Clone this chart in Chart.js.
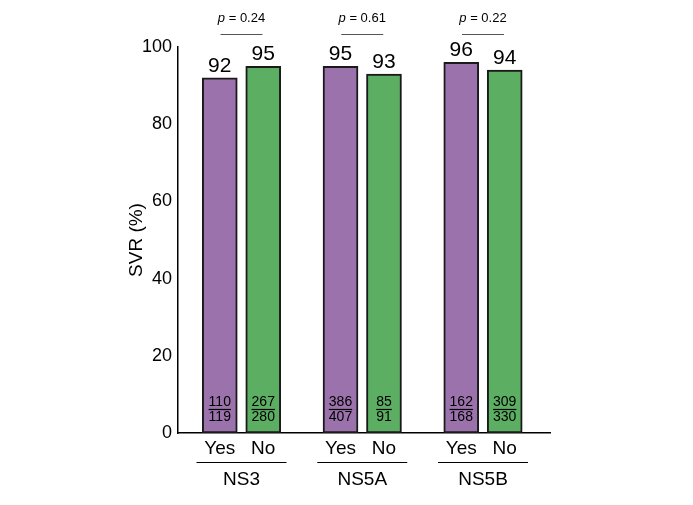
<!DOCTYPE html>
<html>
<head>
<meta charset="utf-8">
<script src="https://cdn.jsdelivr.net/npm/chart.js@4.4.1/dist/chart.umd.min.js"></script>
<style>
  html, body { margin: 0; padding: 0; background: #fff; }
  #wrap { width: 693px; height: 505px; }
</style>
</head>
<body>
<div id="wrap"><canvas id="myChart"></canvas></div>
<script>
const groups = ['NS3', 'NS5A', 'NS5B']
const seriesNames = ['Yes', 'No']
const yesSVR = [92, 95, 96]
const noSVR = [95, 93, 94]
const yesCounts = [['110', '119'], ['386', '407'], ['162', '168']]
const noCounts = [['267', '280'], ['85', '91'], ['309', '330']]
const pValues = ['0.24', '0.61', '0.22']
const yTicks = [0, 20, 40, 60, 80, 100]

const purple = 'rgb(155, 114, 172)'
const green = 'rgb(91, 174, 98)'
const font = "'Liberation Sans', Arial, sans-serif"
const offset = 0.18

const yesData = groups.map((g, i) => ({ x: i + 1 - offset, y: yesSVR[i] }))
const noData = groups.map((g, i) => ({ x: i + 1 + offset, y: noSVR[i] }))

const labelsPlugin = {
  id: 'labels',
  afterDatasetsDraw(chart) {
    const ctx = chart.ctx
    const xs = chart.scales.x
    const ys = chart.scales.y
    ctx.save()
    ctx.fillStyle = '#000'
    ctx.strokeStyle = '#000'
    ctx.textAlign = 'center'

    // value labels and counts
    const sets = [[yesData, yesCounts], [noData, noCounts]]
    sets.forEach(([data, counts]) => {
      data.forEach((d, i) => {
        const px = xs.getPixelForValue(d.x)
        const py = ys.getPixelForValue(d.y)
        ctx.font = '21px ' + font
        ctx.textBaseline = 'alphabetic'
        ctx.fillText(String(d.y), px, py - 6)

        ctx.font = '14px ' + font
        ctx.textBaseline = 'middle'
        ctx.fillText(counts[i][0], px, 402)
        ctx.fillText(counts[i][1], px, 417)
        const w = Math.max(ctx.measureText(counts[i][0]).width, ctx.measureText(counts[i][1]).width)
        ctx.lineWidth = 1.2
        ctx.beginPath()
        ctx.moveTo(px - w / 2, 409.5)
        ctx.lineTo(px + w / 2, 409.5)
        ctx.stroke()
      })
    })

    // p values and group labels
    groups.forEach((g, i) => {
      const cx = xs.getPixelForValue(i + 1)
      ctx.textBaseline = 'middle'
      ctx.font = 'italic 13px ' + font
      const pw = ctx.measureText('p').width
      ctx.font = '13px ' + font
      const rest = ' = ' + pValues[i]
      const rw = ctx.measureText(rest).width
      const start = cx - (pw + rw) / 2
      ctx.textAlign = 'left'
      ctx.font = 'italic 13px ' + font
      ctx.fillText('p', start, 18)
      ctx.font = '13px ' + font
      ctx.fillText(rest, start + pw, 18)
      ctx.textAlign = 'center'

      ctx.strokeStyle = '#555'
      ctx.lineWidth = 1.2
      ctx.beginPath()
      ctx.moveTo(cx - 21, 34.5)
      ctx.lineTo(cx + 21, 34.5)
      ctx.stroke()

      ctx.strokeStyle = '#000'
      ctx.beginPath()
      ctx.moveTo(cx - 45, 462.5)
      ctx.lineTo(cx + 45, 462.5)
      ctx.stroke()

      ctx.font = '19px ' + font
      ctx.fillText(g, cx, 480)
    })
    ctx.restore()
  }
}

new Chart(document.getElementById('myChart'), {
  type: 'bar',
  data: {
    datasets: [{
      label: seriesNames[0],
      data: yesData,
      backgroundColor: purple,
      borderColor: '#1a1a1a',
      borderWidth: 2,
      borderSkipped: false
    }, {
      label: seriesNames[1],
      data: noData,
      backgroundColor: green,
      borderColor: '#1a1a1a',
      borderWidth: 2,
      borderSkipped: false
    }]
  },
  options: {
    responsive: true,
    maintainAspectRatio: false,
    animation: false,
    datasets: {
      bar: { grouped: false, barThickness: 35 }
    },
    layout: {
      padding: { left: 125, right: 143, top: 47, bottom: 0 }
    },
    plugins: {
      legend: { display: false },
      tooltip: { enabled: false }
    },
    scales: {
      x: {
        type: 'linear',
        offset: false,
        min: 0.474,
        max: 3.555,
        grid: { display: false, drawTicks: false },
        border: { display: true, color: '#000', width: 1.5 },
        afterBuildTicks: (scale) => {
          const t = []
          groups.forEach((g, i) => {
            t.push({ value: i + 1 - offset })
            t.push({ value: i + 1 + offset })
          })
          scale.ticks = t
        },
        afterFit: (scale) => { scale.height = 72 },
        ticks: {
          autoSkip: false,
          maxRotation: 0,
          padding: 4,
          color: '#000',
          font: { family: font, size: 19 },
          callback: (value, index) => seriesNames[index % 2]
        }
      },
      y: {
        min: 0,
        max: 100,
        grid: { display: false, drawTicks: false },
        border: { display: true, color: '#000', width: 1.5 },
        afterBuildTicks: (scale) => {
          scale.ticks = yTicks.map(v => ({ value: v }))
        },
        afterFit: (scale) => { scale.width = 53 },
        title: {
          display: true,
          text: 'SVR (%)',
          color: '#000',
          font: { family: font, size: 19 },
          padding: 0
        },
        ticks: {
          padding: 6,
          color: '#000',
          font: { family: font, size: 18 }
        }
      }
    }
  },
  plugins: [labelsPlugin]
})
</script>
</body>
</html>
